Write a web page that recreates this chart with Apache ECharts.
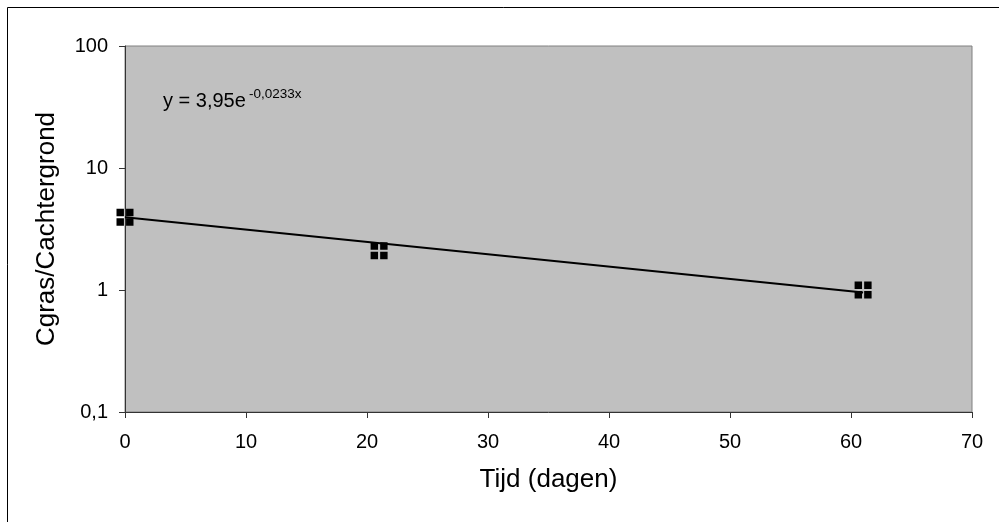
<!DOCTYPE html>
<html>
<head>
<meta charset="utf-8">
<script src="https://cdn.jsdelivr.net/npm/echarts@6/dist/echarts.min.js"></script>
<style>
  html, body { margin: 0; padding: 0; background: #fff; }
  #chart { width: 999px; height: 522px; }
</style>
</head>
<body>
<div id="chart"></div>
<script>
// Measured ratios over time
const days = [0, 21, 61];
const ratio = [3.95, 2.1, 1.0];

// Exponential fit y = a * e^(b x)
const fitA = 3.95;
const fitB = -0.0233;
const fitXs = [0, 61];

const xTicks = [0, 10, 20, 30, 40, 50, 60, 70];
const yTickLabels = { 0.1: '0,1', 1: '1', 10: '10', 100: '100' };

const fitLine = fitXs.map(x => [x, fitA * Math.exp(fitB * x)]);
const points = days.map((d, i) => [d, ratio[i]]);

// black square split by a white cross
const markerPath = 'path://M0,0h7v7h-7z M9,0h7v7h-7z M0,9h7v7h-7z M9,9h7v7h-7z';

const font = 'Liberation Sans, Arial, sans-serif';
const chart = echarts.init(document.getElementById('chart'), null, { renderer: 'canvas' });

chart.setOption({
  animation: false,
  backgroundColor: '#ffffff',
  grid: {
    left: 125, right: 27, top: 46, bottom: 110,
    show: true,
    backgroundColor: '#c0c0c0',
    borderColor: '#808080',
    borderWidth: 1
  },
  xAxis: {
    type: 'value',
    min: 0, max: 70, interval: 10,
    name: 'Tijd (dagen)',
    nameLocation: 'middle',
    nameGap: 55,
    nameTextStyle: { fontFamily: font, fontSize: 26, color: '#000' },
    axisLine: { show: true, onZero: false, lineStyle: { color: '#333', width: 1 } },
    axisTick: { show: true, length: 6, lineStyle: { color: '#333' } },
    axisLabel: { fontFamily: font, fontSize: 20, color: '#000', margin: 20,
      formatter: v => xTicks.includes(v) ? String(v) : '' },
    splitLine: { show: false }
  },
  yAxis: {
    type: 'log',
    logBase: 10,
    min: 0.1, max: 100,
    name: 'Cgras/Cachtergrond',
    nameLocation: 'middle',
    nameGap: 65,
    nameTextStyle: { fontFamily: font, fontSize: 26, color: '#000' },
    axisLine: { show: true, onZero: false, lineStyle: { color: '#333', width: 1 } },
    axisTick: { show: true, length: 6, lineStyle: { color: '#333' } },
    axisLabel: { fontFamily: font, fontSize: 20, color: '#000', margin: 17,
      formatter: v => {
        const key = Number(v.toPrecision(3));
        return yTickLabels[key] !== undefined ? yTickLabels[key] : '';
      } },
    splitLine: { show: false }
  },
  series: [
    {
      type: 'line',
      data: fitLine,
      showSymbol: false,
      lineStyle: { color: '#000', width: 2 },
      z: 2
    },
    {
      type: 'scatter',
      data: points,
      symbol: markerPath,
      symbolSize: 17,
      itemStyle: { color: '#000', opacity: 1 },
      z: 3
    }
  ],
  graphic: [
    // outer frame
    { type: 'line', shape: { x1: 7.5, y1: 7.5, x2: 7.5, y2: 522 }, style: { stroke: '#000', lineWidth: 1 } },
    { type: 'line', shape: { x1: 7.5, y1: 7.5, x2: 999, y2: 7.5 }, style: { stroke: '#000', lineWidth: 1 } },
    // fit equation
    { type: 'text', left: 163, top: 91,
      style: { text: 'y = 3,95e', fontFamily: font, fontSize: 20, fill: '#000' } },
    { type: 'text', left: 249, top: 87,
      style: { text: '-0,0233x', fontFamily: font, fontSize: 13.5, fill: '#000' } }
  ]
});
</script>
</body>
</html>
